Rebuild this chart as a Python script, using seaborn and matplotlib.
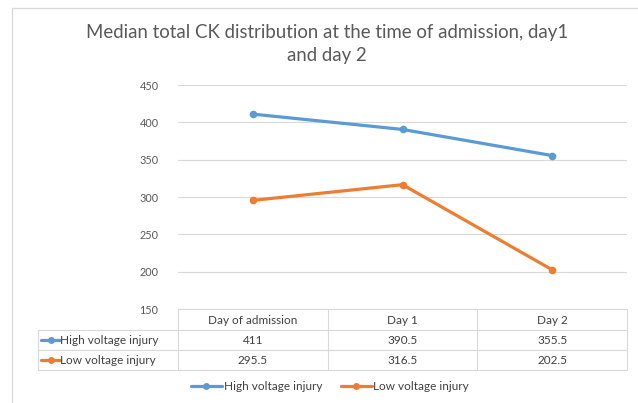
import matplotlib
matplotlib.use("Agg")
import matplotlib.pyplot as plt
import seaborn as sns
import pandas as pd
from matplotlib.lines import Line2D

categories = ["Day of admission", "Day 1", "Day 2"]
high_voltage = [411, 390.5, 355.5]
low_voltage = [295.5, 316.5, 202.5]
series_names = ["High voltage injury", "Low voltage injury"]
title = "Median total CK distribution at the time of admission, day1\nand day 2"
yticks = [150, 200, 250, 300, 350, 400, 450]

sns.set_theme(style="white")
plt.rcParams["font.family"] = ["Lato", "DejaVu Sans"]

W, H = 638, 403
fig = plt.figure(figsize=(W / 100, H / 100), dpi=100)
fig.patch.set_facecolor("white")

def fx(px):
    return px / W

def fy(py):
    return 1 - py / H

ax = fig.add_axes([fx(178), fy(309), fx(627) - fx(178), fy(85) - fy(309)])

df = pd.DataFrame({
    "cat": categories * 2,
    "x": list(range(len(categories))) * 2,
    "value": high_voltage + low_voltage,
    "series": [series_names[0]] * 3 + [series_names[1]] * 3,
})
colors = {series_names[0]: "#5B9BD5", series_names[1]: "#ED7D31"}
sns.lineplot(data=df, x="x", y="value", hue="series", palette=colors, marker="o",
             markersize=5.5, markeredgewidth=0, linewidth=2.3, ax=ax, legend=False)

ax.set_xlim(-0.5, len(categories) - 0.5)
ax.set_ylim(150, 450)
ax.set_yticks(yticks)
ax.set_yticklabels([str(t) for t in yticks], fontsize=7.8, color="#595959")
ax.set_xticks([])
ax.set_xlabel("")
ax.set_ylabel("")
ax.tick_params(axis="y", length=0, pad=14)
for s in ax.spines.values():
    s.set_visible(False)
ax.grid(axis="y", color="#D9D9D9", linewidth=0.8)
ax.set_axisbelow(True)

# Data table below plot
grid_c = "#D9D9D9"
tx = lambda px: fx(px)
row_y = [309, 330, 350, 370]
col_x = [178, 327.7, 477.3, 627]
lab_x0 = 38
lw = 0.8
fig.add_artist(Line2D([tx(178), tx(627)], [fy(309), fy(309)], color=grid_c, lw=lw))
for yy in row_y[1:]:
    fig.add_artist(Line2D([tx(lab_x0), tx(627)], [fy(yy), fy(yy)], color=grid_c, lw=lw))
for xx in col_x:
    fig.add_artist(Line2D([tx(xx), tx(xx)], [fy(309), fy(370)], color=grid_c, lw=lw))
fig.add_artist(Line2D([tx(lab_x0), tx(lab_x0)], [fy(330), fy(370)], color=grid_c, lw=lw))

tfs = 8.5
for i, c in enumerate(categories):
    xc = (col_x[i] + col_x[i + 1]) / 2
    fig.text(tx(xc), fy(320), c, ha="center", va="center", fontsize=tfs, color="#404040")
for r, (name, vals) in enumerate(zip(series_names, [high_voltage, low_voltage])):
    yc = (row_y[r + 1] + row_y[r + 2]) / 2
    for i, v in enumerate(vals):
        xc = (col_x[i] + col_x[i + 1]) / 2
        fig.text(tx(xc), fy(yc), f"{v:g}", ha="center", va="center", fontsize=tfs, color="#404040")
    fig.add_artist(Line2D([tx(41), tx(60)], [fy(yc), fy(yc)], color=colors[name], lw=2.3))
    fig.add_artist(Line2D([tx(50.5)], [fy(yc)], color=colors[name], marker="o",
                          markersize=5, markeredgewidth=0, lw=0))
    fig.text(tx(60), fy(yc), name, ha="left", va="center", fontsize=tfs, color="#404040")

# Legend
handles = [Line2D([], [], color=colors[n], lw=2.3, marker="o", markersize=5, markeredgewidth=0)
           for n in series_names]
fig.legend(handles, series_names, loc="center", bbox_to_anchor=(fx(330), fy(387)), ncol=2,
           frameon=False, fontsize=tfs, handlelength=2.6, handletextpad=0.15, columnspacing=1.6,
           labelcolor="#404040")

fig.text(fx(327), fy(44), title, ha="center", va="center", fontsize=13.4, color="#595959",
         linespacing=1.45)

# outer chart frame
fig.add_artist(Line2D([fx(12), fx(12)], [fy(8), 0], color=grid_c, lw=0.9))
fig.add_artist(Line2D([fx(12), 1], [fy(8), fy(8)], color=grid_c, lw=0.9))

fig.savefig("out.png", dpi=100)
